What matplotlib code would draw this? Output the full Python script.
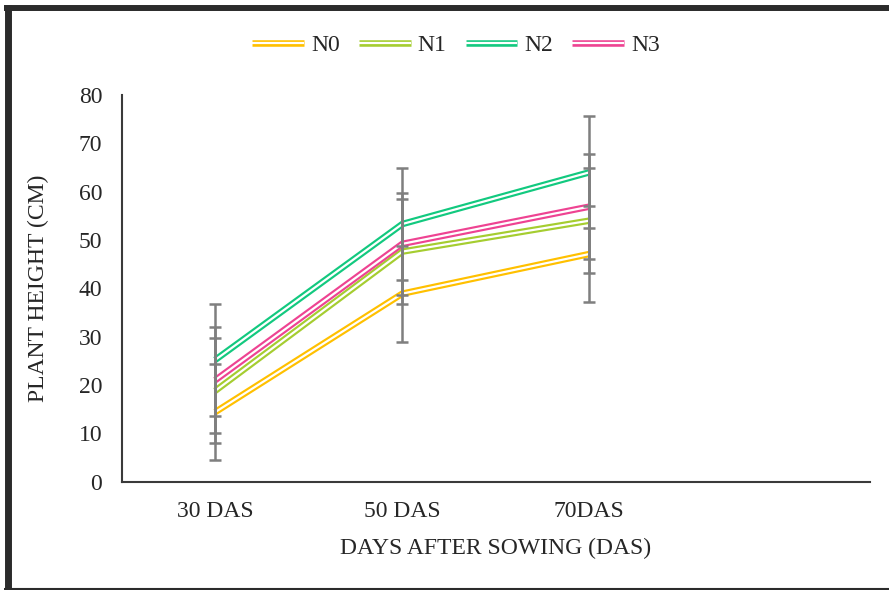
import matplotlib
matplotlib.use("Agg")
import matplotlib.pyplot as plt
import matplotlib.patheffects as pe
from matplotlib.lines import Line2D

# data
days = ["30 DAS", "50 DAS", "70DAS", ""]
series = ["N0", "N1", "N2", "N3"]
n0 = [14.4, 38.9, 47.1]
n1 = [18.8, 47.6, 54.0]
n2 = [25.2, 53.3, 64.0]
n3 = [21.0, 49.2, 56.9]
n0_err = [9.9, 9.9, 9.9]
n1_err = [10.9, 10.9, 10.8]
n2_err = [11.6, 11.5, 11.6]
n3_err = [10.9, 10.6, 10.9]
colors = ["#FFC000", "#A5CD30", "#12C97F", "#EE4392"]

values = [n0, n1, n2, n3]
errors = [n0_err, n1_err, n2_err, n3_err]

plt.rcParams["font.family"] = ["Liberation Serif", "DejaVu Serif"]
txt = "#262626"
fs = 17

fig = plt.figure(figsize=(8.89, 5.90), dpi=100)
ax = fig.add_axes([0.1369, 0.1836, 0.8417, 0.6554])

x = list(range(len(n0)))

#double lines: thick colour with a thin white stripe in the middle
for name, vals, c in zip(series, values, colors):
    ax.plot(x, vals, color=c, lw=4.7, solid_capstyle="butt", label=name,
            path_effects=[pe.Stroke(linewidth=4.7, foreground=c),
                          pe.Stroke(linewidth=1.6, foreground="white")])

#error bars on top
for vals, err in zip(values, errors):
    ax.errorbar(x, vals, yerr=err, fmt="none", ecolor="#7F7F7F",
                elinewidth=1.8, capsize=4.3, capthick=1.8, zorder=5)

ax.set_xlim(-0.5, 3.5)
ax.set_ylim(0, 80)
ax.set_xticks(range(len(days)))
ax.set_xticklabels(days)
ax.set_yticks(range(0, 81, 10))
ax.tick_params(axis="both", length=0, labelsize=fs, colors=txt)
ax.tick_params(axis="y", pad=14)
ax.tick_params(axis="x", pad=14)

for s in ["top", "right"]:
    ax.spines[s].set_visible(False)
for s in ["left", "bottom"]:
    ax.spines[s].set_color("#3A3A3A")
    ax.spines[s].set_linewidth(1.5)

ax.set_xlabel("DAYS AFTER SOWING (DAS)", fontsize=fs, color=txt, labelpad=11)
ax.set_ylabel("PLANT HEIGHT (CM)", fontsize=fs, color=txt, labelpad=21)

ax.legend(loc="center", bbox_to_anchor=(456 / 889, 1 - 45 / 590),
          bbox_transform=fig.transFigure, ncol=4, frameon=False,
          fontsize=fs, handlelength=2.2, handletextpad=0.3,
          columnspacing=0.8, labelcolor=txt)

#outer frame
W, H = 889, 590
fig.add_artist(Line2D([4 / W, 1], [1 - 8 / H, 1 - 8 / H], transform=fig.transFigure,
                      color="#2B2B2B", lw=4.3, solid_capstyle="butt"))
fig.add_artist(Line2D([7.5 / W, 7.5 / W], [0, 1 - 5 / H], transform=fig.transFigure,
                      color="#2B2B2B", lw=5.0, solid_capstyle="butt"))
fig.add_artist(Line2D([4 / W, 1], [1.5 / H, 1.5 / H], transform=fig.transFigure,
                      color="#2B2B2B", lw=1.5, solid_capstyle="butt"))

fig.savefig("out.png", dpi=100)
